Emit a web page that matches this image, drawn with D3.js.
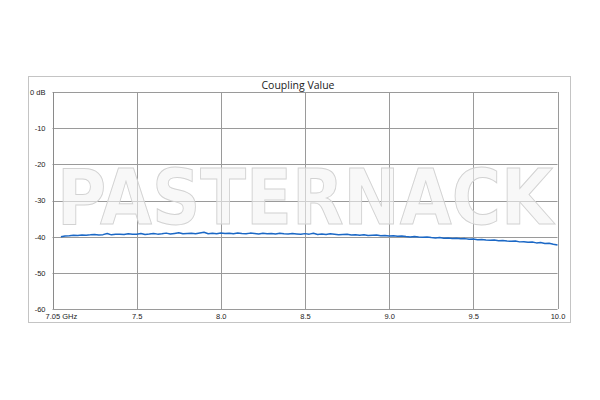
<!DOCTYPE html>
<html><head><meta charset="utf-8">
<script src="https://cdn.jsdelivr.net/npm/d3@7"></script>
<style>body{margin:0;background:#fff;}svg{display:block;}</style>
</head><body>
<svg id="c" width="600" height="400"></svg>
<script>
const title = "Coupling Value";
const watermark = "PASTERNACK";
const freqStart = 7.05, freqStep = 0.025;
const coupling = [
 -40.05,-39.80,-39.72,-39.60,-39.66,-39.52,-39.58,-39.50,-39.38,-39.52,
 -39.44,-39.12,-39.50,-39.36,-39.30,-39.42,-39.18,-39.36,-39.30,-39.12,
 -39.38,-39.26,-39.10,-39.30,-39.22,-39.02,-39.28,-39.10,-38.92,-39.22,
 -39.14,-39.06,-39.20,-39.00,-38.80,-39.18,-39.06,-39.22,-39.00,-39.12,
 -39.04,-39.20,-38.98,-39.14,-39.22,-39.02,-39.10,-39.24,-39.06,-39.18,
 -39.12,-39.26,-39.08,-39.22,-39.28,-39.12,-39.24,-39.34,-39.16,-39.30,
 -39.06,-39.38,-39.28,-39.42,-39.22,-39.36,-39.48,-39.40,-39.32,-39.56,
 -39.44,-39.58,-39.46,-39.68,-39.60,-39.52,-39.74,-39.66,-39.80,-39.76,
 -39.90,-39.82,-39.96,-40.06,-39.94,-40.12,-40.16,-40.10,-40.26,-40.34,
 -40.22,-40.42,-40.36,-40.52,-40.44,-40.60,-40.54,-40.72,-40.66,-40.84,
 -40.76,-40.90,-41.00,-40.94,-41.12,-41.06,-41.22,-41.30,-41.18,-41.44,
 -41.38,-41.56,-41.50,-41.72,-41.62,-41.88,-41.80,-42.08,-42.30
];
const xTicks = [7.05, 7.5, 8.0, 8.5, 9.0, 9.5, 10.0];
const xTickLabels = ["7.05 GHz","7.5","8.0","8.5","9.0","9.5","10.0"];
const xGrid = [7.5, 8.0, 8.5, 9.0, 9.5, 10.0];
const yTicks = [0,-10,-20,-30,-40,-50,-60];
const yTickLabels = ["0 dB","-10","-20","-30","-40","-50","-60"];

const data = coupling.map((v,i)=>({f: freqStart + i*freqStep, v}));

const svg = d3.select("#c");
const L=52.5, R=557.5, T=92, B=309;
const x = d3.scaleLinear().domain([7.0,10.0]).range([L,R]);
const y = d3.scaleLinear().domain([-60,0]).range([B,T]);

// outer frame
svg.append("rect").attr("x",28.5).attr("y",76.5).attr("width",542).attr("height",246)
  .attr("fill","#fff").attr("stroke","#c4c4c4").attr("stroke-width",1);

// title
svg.append("text").attr("x",298).attr("y",89).attr("text-anchor","middle")
  .attr("font-family","Open Sans, Liberation Sans, sans-serif").attr("font-size",10.5).attr("fill","#222")
  .text(title);

// grid
const g = svg.append("g");
g.selectAll("line.h").data(yTicks).enter().append("line")
  .attr("x1",L).attr("x2",R).attr("y1",d=>Math.round(y(d))+0.5).attr("y2",d=>Math.round(y(d))+0.5)
  .attr("stroke","#9a9a9a").attr("stroke-width",1);
g.selectAll("line.v").data(xGrid).enter().append("line")
  .attr("y1",T).attr("y2",B).attr("x1",d=>Math.round(x(d))+0.5).attr("x2",d=>Math.round(x(d))+0.5)
  .attr("stroke","#9a9a9a").attr("stroke-width",1);
g.append("line").attr("x1",Math.round(L)+0.5).attr("x2",Math.round(L)+0.5).attr("y1",T).attr("y2",B)
  .attr("stroke","#8a8a8a");

// watermark
svg.append("text").attr("x",57).attr("y",224)
  .attr("font-family","DejaVu Sans, Liberation Sans, sans-serif").attr("font-weight","bold")
  .attr("font-size",76).attr("textLength",496).attr("lengthAdjust","spacingAndGlyphs")
  .attr("fill","#f4f4f4").attr("fill-opacity",0.6).attr("stroke","#d2d2d2").attr("stroke-width",1)
  .text(watermark);

// axes labels
const yAxis = d3.axisLeft(y).tickValues(yTicks).tickSize(0).tickPadding(7)
  .tickFormat((d,i)=>yTickLabels[i]);
const ya = svg.append("g").attr("transform",`translate(${L},0)`).call(yAxis);
ya.select(".domain").remove();
ya.selectAll("text").attr("font-family","Liberation Sans, Arial, sans-serif").attr("font-size",7.5).attr("fill","#222");

const xAxis = d3.axisBottom(x).tickValues(xTicks).tickSize(0).tickPadding(5)
  .tickFormat((d,i)=>xTickLabels[i]);
const xa = svg.append("g").attr("transform",`translate(0,${B})`).call(xAxis);
xa.select(".domain").remove();
xa.selectAll("text").attr("font-family","Liberation Sans, Arial, sans-serif").attr("font-size",7.5).attr("fill","#222");

// series
const line = d3.line().x(d=>x(d.f)).y(d=>y(d.v));
svg.append("path").datum(data).attr("d",line).attr("fill","none")
  .attr("stroke","#1b68c6").attr("stroke-width",1.5).attr("stroke-linejoin","round");
</script>
</body></html>
